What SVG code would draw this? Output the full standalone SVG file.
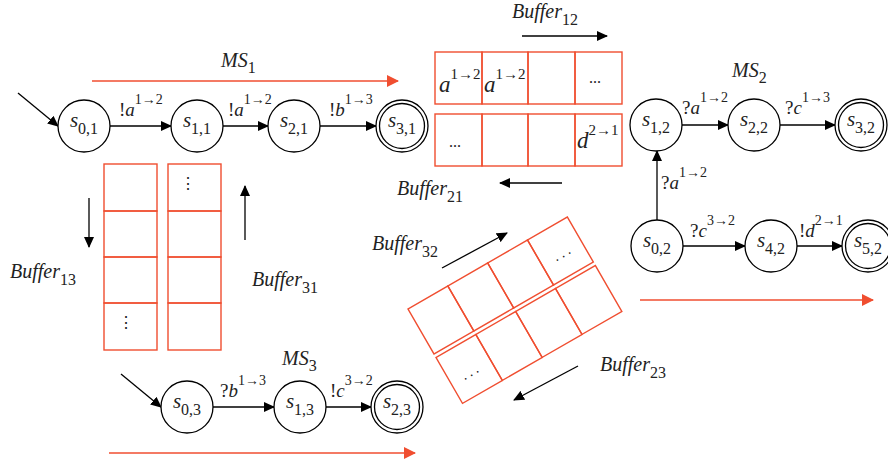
<svg xmlns="http://www.w3.org/2000/svg" width="888" height="466" viewBox="0 0 888 466">
<defs>
<marker id="ah" markerUnits="userSpaceOnUse" markerWidth="11" markerHeight="10" refX="10" refY="5" orient="auto"><path d="M0,0 L11,5 L0,10 z" fill="#000"/></marker>
<marker id="rh" markerUnits="userSpaceOnUse" markerWidth="12" markerHeight="12" refX="11" refY="6" orient="auto"><path d="M0,0 L12,6 L0,12 z" fill="#f04e30"/></marker>
<style>
text{font-family:"Liberation Serif","DejaVu Serif",serif;fill:#222}
.st{font-size:21px;text-anchor:middle}
.i{font-style:italic}
.sb{font-size:16px}
.el{font-size:19px}
.sp{font-size:14px}
.bl{font-size:20px}
.c{fill:#fff;stroke:#000;stroke-width:1.3}
.cell{fill:none;stroke:#f04e30;stroke-width:1.4}
.e{stroke:#000;stroke-width:1.3;fill:none;marker-end:url(#ah)}
.r{stroke:#f04e30;stroke-width:1.5;fill:none;marker-end:url(#rh)}
</style>
</defs>

<!-- connectors -->
<g id="connectors">
<line class="e" x1="18" y1="93" x2="58" y2="126"/>
<line class="e" x1="110" y1="126" x2="171" y2="126"/>
<line class="e" x1="223" y1="126" x2="268" y2="126"/>
<line class="e" x1="320" y1="126" x2="376" y2="126"/>
<line class="e" x1="682" y1="125" x2="728" y2="125"/>
<line class="e" x1="780" y1="125" x2="835" y2="125"/>
<line class="e" x1="657" y1="220" x2="657" y2="151"/>
<line class="e" x1="683" y1="246" x2="745" y2="246"/>
<line class="e" x1="797" y1="246" x2="842" y2="246"/>
<line class="e" x1="121" y1="374" x2="161" y2="407"/>
<line class="e" x1="213" y1="407" x2="274" y2="407"/>
<line class="e" x1="326" y1="407" x2="371" y2="407"/>
<!-- buffer direction arrows -->
<line class="e" x1="522" y1="36" x2="607" y2="36"/>
<line class="e" x1="562" y1="183" x2="500" y2="183"/>
<line class="e" x1="89" y1="198" x2="89" y2="247"/>
<line class="e" x1="245" y1="240" x2="245" y2="186"/>
<line class="e" x1="442" y1="268" x2="507" y2="233"/>
<line class="e" x1="578" y1="366" x2="514" y2="400"/>
<!-- red machine arrows -->
<line class="r" x1="92" y1="81" x2="398" y2="81"/>
<line class="r" x1="640" y1="300" x2="873" y2="300"/>
<line class="r" x1="109" y1="453" x2="415" y2="453"/>
</g>

<!-- edge labels -->
<g id="edge-labels">
<text class="el" x="119" y="116">!<tspan class="i">a</tspan><tspan class="sp" dy="-12">1→2</tspan></text>
<text class="el" x="228" y="116">!<tspan class="i">a</tspan><tspan class="sp" dy="-12">1→2</tspan></text>
<text class="el" x="329" y="116">!<tspan class="i">b</tspan><tspan class="sp" dy="-12">1→3</tspan></text>
<text class="el" x="682" y="114">?<tspan class="i">a</tspan><tspan class="sp" dy="-12">1→2</tspan></text>
<text class="el" x="785" y="114">?<tspan class="i">c</tspan><tspan class="sp" dy="-12">1→3</tspan></text>
<text class="el" x="661" y="189">?<tspan class="i">a</tspan><tspan class="sp" dy="-12">1→2</tspan></text>
<text class="el" x="690" y="237">?<tspan class="i">c</tspan><tspan class="sp" dy="-12">3→2</tspan></text>
<text class="el" x="799" y="237">!<tspan class="i">d</tspan><tspan class="sp" dy="-12">2→1</tspan></text>
<text class="el" x="220" y="397">?<tspan class="i">b</tspan><tspan class="sp" dy="-12">1→3</tspan></text>
<text class="el" x="330" y="397">!<tspan class="i">c</tspan><tspan class="sp" dy="-12">3→2</tspan></text>
</g>

<!-- machine labels -->
<text class="bl i" x="221" y="67">MS<tspan class="sb" font-style="normal" dy="6">1</tspan></text>
<text class="bl i" x="732" y="77">MS<tspan class="sb" font-style="normal" dy="6">2</tspan></text>
<text class="bl i" x="282" y="365">MS<tspan class="sb" font-style="normal" dy="6">3</tspan></text>

<!-- MS1 nodes -->
<g id="s01"><circle class="c" cx="84" cy="126" r="26"/><text class="st" x="84" y="127"><tspan class="i">s</tspan><tspan class="sb" dy="7">0,1</tspan></text></g>
<g id="s11"><circle class="c" cx="197" cy="126" r="26"/><text class="st" x="197" y="127"><tspan class="i">s</tspan><tspan class="sb" dy="7">1,1</tspan></text></g>
<g id="s21"><circle class="c" cx="294" cy="126" r="26"/><text class="st" x="294" y="127"><tspan class="i">s</tspan><tspan class="sb" dy="7">2,1</tspan></text></g>
<g id="s31"><circle class="c" cx="402" cy="126" r="26"/><circle class="c" cx="402" cy="126" r="22.5"/><text class="st" x="402" y="127"><tspan class="i">s</tspan><tspan class="sb" dy="7">3,1</tspan></text></g>

<!-- MS2 nodes -->
<g id="s12"><circle class="c" cx="656" cy="125" r="26"/><text class="st" x="656" y="126"><tspan class="i">s</tspan><tspan class="sb" dy="7">1,2</tspan></text></g>
<g id="s22"><circle class="c" cx="754" cy="125" r="26"/><text class="st" x="754" y="126"><tspan class="i">s</tspan><tspan class="sb" dy="7">2,2</tspan></text></g>
<g id="s32"><circle class="c" cx="861" cy="125" r="26"/><circle class="c" cx="861" cy="125" r="22.5"/><text class="st" x="861" y="126"><tspan class="i">s</tspan><tspan class="sb" dy="7">3,2</tspan></text></g>
<g id="s02"><circle class="c" cx="657" cy="246" r="26"/><text class="st" x="657" y="247"><tspan class="i">s</tspan><tspan class="sb" dy="7">0,2</tspan></text></g>
<g id="s42"><circle class="c" cx="771" cy="246" r="26"/><text class="st" x="771" y="247"><tspan class="i">s</tspan><tspan class="sb" dy="7">4,2</tspan></text></g>
<g id="s52"><circle class="c" cx="868" cy="246" r="26"/><circle class="c" cx="868" cy="246" r="22.5"/><text class="st" x="868" y="247"><tspan class="i">s</tspan><tspan class="sb" dy="7">5,2</tspan></text></g>

<!-- MS3 nodes -->
<g id="s03"><circle class="c" cx="187" cy="407" r="26"/><text class="st" x="187" y="408"><tspan class="i">s</tspan><tspan class="sb" dy="7">0,3</tspan></text></g>
<g id="s13"><circle class="c" cx="300" cy="407" r="26"/><text class="st" x="300" y="408"><tspan class="i">s</tspan><tspan class="sb" dy="7">1,3</tspan></text></g>
<g id="s23"><circle class="c" cx="397" cy="407" r="26"/><circle class="c" cx="397" cy="407" r="22.5"/><text class="st" x="397" y="408"><tspan class="i">s</tspan><tspan class="sb" dy="7">2,3</tspan></text></g>

<!-- Buffer12 / Buffer21 -->
<g id="buffer12">
<rect class="cell" x="435" y="52" width="47" height="52"/><rect class="cell" x="482" y="52" width="46" height="52"/><rect class="cell" x="528" y="52" width="47" height="52"/><rect class="cell" x="575" y="52" width="47" height="52"/>
<text x="439" y="92" font-size="23" class="i">a<tspan font-style="normal" font-size="15" dy="-13">1→2</tspan></text>
<text x="484" y="92" font-size="23" class="i">a<tspan font-style="normal" font-size="15" dy="-13">1→2</tspan></text>
<text x="595" y="83" font-size="16" text-anchor="middle">...</text>
<text class="bl" x="512" y="18"><tspan class="i">Buffer</tspan><tspan class="sb" dy="7">12</tspan></text>
</g>
<g id="buffer21">
<rect class="cell" x="435" y="114" width="47" height="52"/><rect class="cell" x="482" y="114" width="46" height="52"/><rect class="cell" x="528" y="114" width="47" height="52"/><rect class="cell" x="575" y="114" width="47" height="52"/>
<text x="455" y="147" font-size="16" text-anchor="middle">...</text>
<text x="577" y="148" font-size="23" class="i">d<tspan font-style="normal" font-size="15" dy="-13">2→1</tspan></text>
<text class="bl" x="397" y="195"><tspan class="i">Buffer</tspan><tspan class="sb" dy="7">21</tspan></text>
</g>

<!-- Buffer13 / Buffer31 -->
<g id="buffer13">
<rect class="cell" x="104" y="164" width="53" height="47"/><rect class="cell" x="104" y="211" width="53" height="46"/><rect class="cell" x="104" y="257" width="53" height="46"/><rect class="cell" x="104" y="303" width="53" height="47"/>
<text x="126" y="328" font-size="16" text-anchor="middle">⋮</text>
<text class="bl" x="10" y="278"><tspan class="i">Buffer</tspan><tspan class="sb" dy="7">13</tspan></text>
</g>
<g id="buffer31">
<rect class="cell" x="168" y="164" width="53" height="47"/><rect class="cell" x="168" y="211" width="53" height="46"/><rect class="cell" x="168" y="257" width="53" height="46"/><rect class="cell" x="168" y="303" width="53" height="47"/>
<text x="188" y="189" font-size="16" text-anchor="middle">⋮</text>
<text class="bl" x="252" y="286"><tspan class="i">Buffer</tspan><tspan class="sb" dy="7">31</tspan></text>
</g>

<!-- Buffer32 / Buffer23 (rotated) -->
<g id="buffer32">
<g transform="translate(408,309) rotate(-30)">
<rect class="cell" x="0" y="0" width="46" height="52"/><rect class="cell" x="46" y="0" width="46" height="52"/><rect class="cell" x="92" y="0" width="46" height="52"/><rect class="cell" x="138" y="0" width="46" height="52"/>
<text x="161" y="33" font-size="14" text-anchor="middle">. . .</text>
</g>
<text class="bl" x="372" y="250"><tspan class="i">Buffer</tspan><tspan class="sb" dy="7">32</tspan></text>
</g>
<g id="buffer23">
<g transform="translate(408,309) rotate(-30)">
<rect class="cell" x="0" y="56" width="46" height="53"/><rect class="cell" x="46" y="56" width="46" height="53"/><rect class="cell" x="92" y="56" width="46" height="53"/><rect class="cell" x="138" y="56" width="46" height="53"/>
<text x="22" y="90" font-size="14" text-anchor="middle">. . .</text>
</g>
<text class="bl" x="600" y="371"><tspan class="i">Buffer</tspan><tspan class="sb" dy="7">23</tspan></text>
</g>
</svg>
